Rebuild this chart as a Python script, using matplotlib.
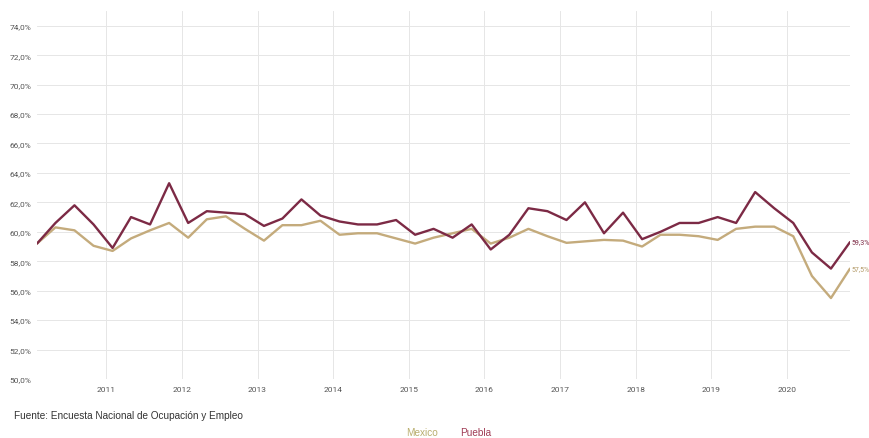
import matplotlib
matplotlib.use("Agg")
import matplotlib.pyplot as plt
import matplotlib.dates as mdates
from matplotlib.ticker import FuncFormatter
import pandas as pd

# Tasa de participación trimestral, 2010T1 - 2020T4
quarters = pd.period_range("2010Q1", "2020Q4", freq="Q")

puebla = [59.2, 60.6, 61.8, 60.5, 58.9, 61.0, 60.5, 63.3,
          60.6, 61.4, 61.3, 61.2, 60.4, 60.9, 62.2, 61.1,
          60.7, 60.5, 60.5, 60.8, 59.8, 60.2, 59.6, 60.5,
          58.8, 59.8, 61.6, 61.4, 60.8, 62.0, 59.9, 61.3,
          59.5, 60.0, 60.6, 60.6, 61.0, 60.6, 62.7, 61.6,
          60.6, 58.6, 57.5, 59.3]

mexico = [59.2, 60.3, 60.1, 59.05, 58.7, 59.55, 60.1, 60.6,
          59.6, 60.85, 61.05, 60.2, 59.4, 60.45, 60.45, 60.75,
          59.8, 59.9, 59.9, 59.55, 59.2, 59.6, 59.9, 60.2,
          59.2, 59.6, 60.2, 59.7, 59.25, 59.35, 59.45, 59.4,
          59.0, 59.8, 59.8, 59.7, 59.45, 60.2, 60.35, 60.35,
          59.7, 57.0, 55.5, 57.5]

year_ticks = list(range(2011, 2021))
y_ticks = list(range(50, 75, 2))

col_puebla = "#7c2a45"
col_mexico = "#c4ab7c"

# fecha de cada trimestre (segundo mes)
x = [(q.start_time + pd.DateOffset(months=1)) for q in quarters]

fig = plt.figure(figsize=(8.70, 4.39), dpi=100)
ax = fig.add_axes([37 / 870, 1 - 380 / 439, 813 / 870, 368 / 439])

ax.plot(x, mexico, color=col_mexico, linewidth=1.7, solid_joinstyle="round", solid_capstyle="round")
ax.plot(x, puebla, color=col_puebla, linewidth=1.7, solid_joinstyle="round", solid_capstyle="round")

ax.set_xlim(x[0], x[-1])
ax.set_ylim(50, 75)

ax.set_yticks(y_ticks)
ax.yaxis.set_major_formatter(FuncFormatter(lambda v, p: f"{v:.1f}%".replace(".", ",")))
ax.set_xticks([pd.Timestamp(f"{y}-01-01") for y in year_ticks])
ax.xaxis.set_major_formatter(mdates.DateFormatter("%Y"))

ax.grid(True, color="#e6e6e6", linewidth=0.7)
ax.set_axisbelow(True)
for s in ax.spines.values():
    s.set_visible(False)
ax.tick_params(length=0, labelsize=6, colors="#555555")
ax.tick_params(axis="y", pad=4)
ax.tick_params(axis="x", pad=5)
for lab in ax.get_xticklabels() + ax.get_yticklabels():
    lab.set_family("Roboto")

# etiquetas al final de las series
ax.annotate(f"{puebla[-1]:.1f}%".replace(".", ","), (x[-1], puebla[-1]), xytext=(1, 0),
            textcoords="offset points", fontsize=5, color=col_puebla, va="center", family="Roboto")
ax.annotate(f"{mexico[-1]:.1f}%".replace(".", ","), (x[-1], mexico[-1]), xytext=(1, 0),
            textcoords="offset points", fontsize=5, color="#b39a68", va="center", family="Roboto")

fig.text(14 / 870, 1 - 416 / 439, "Fuente: Encuesta Nacional de Ocupación y Empleo",
         fontsize=7.2, color="#333333", va="center", family="Liberation Sans")
fig.text(422 / 870, 1 - 433 / 439, "Mexico", fontsize=7.2, color="#b9ae6e", ha="center",
         va="center", family="Liberation Sans")
fig.text(476 / 870, 1 - 433 / 439, "Puebla", fontsize=7.2, color="#a03c55", ha="center",
         va="center", family="Liberation Sans")

fig.savefig("out.png", dpi=100)
